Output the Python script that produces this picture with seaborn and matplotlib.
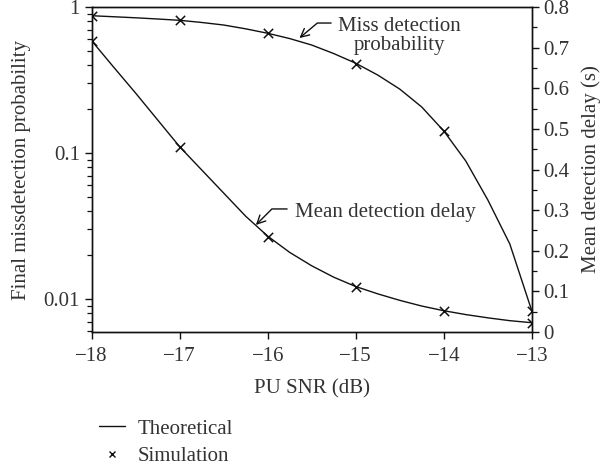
import numpy as np
import pandas as pd
import matplotlib
matplotlib.use("Agg")
import matplotlib.pyplot as plt
import matplotlib.ticker as mticker
from matplotlib.lines import Line2D
import seaborn as sns

# simulation points
snr = [-18, -17, -16, -15, -14, -13]
sim_miss = [0.872, 0.811, 0.660, 0.407, 0.1415, 0.0083]
sim_delay = [0.717, 0.456, 0.235, 0.112, 0.0525, 0.023]

# theoretical curves, every 0.25 dB
theo_snr = [-18, -17.75, -17.5, -17.25, -17, -16.75, -16.5, -16.25, -16, -15.75, -15.5,
            -15.25, -15, -14.75, -14.5, -14.25, -14, -13.75, -13.5, -13.25, -13]
theo_miss = [0.872, 0.858, 0.844, 0.828, 0.811, 0.784, 0.753, 0.709, 0.661, 0.608, 0.549,
             0.480, 0.412, 0.342, 0.274, 0.2065, 0.1415, 0.0881, 0.0477, 0.0238, 0.00828]
theo_delay = [0.717, 0.652, 0.588, 0.522, 0.456, 0.399, 0.342, 0.285, 0.236, 0.196, 0.163,
              0.135, 0.112, 0.094, 0.078, 0.064, 0.0525, 0.043, 0.035, 0.028, 0.023]

sns.set_style("ticks")
plt.rcParams["font.family"] = ["Liberation Serif", "DejaVu Serif"]
plt.rcParams["font.size"] = 15
plt.rcParams["axes.linewidth"] = 1.0

sim = pd.DataFrame({"snr": snr, "miss": sim_miss, "delay": sim_delay})
theo = pd.DataFrame({"snr": theo_snr, "miss": theo_miss, "delay": theo_delay})

fig = plt.figure(figsize=(6.03, 4.69), dpi=100)
ax = fig.add_axes([0.152, 0.292, 0.730, 0.693])
ax2 = ax.twinx()

C = "#111111"
T = "#333333"
sns.lineplot(data=theo, x="snr", y="miss", ax=ax, color=C, lw=1.0)
sns.scatterplot(data=sim, x="snr", y="miss", ax=ax, marker="x", color=C, s=45, linewidth=1.1, zorder=5)
sns.lineplot(data=theo, x="snr", y="delay", ax=ax2, color=C, lw=1.0)
sns.scatterplot(data=sim, x="snr", y="delay", ax=ax2, marker="x", color=C, s=45, linewidth=1.1, zorder=5)

ax.set_yscale("log")
ax.set_ylim(0.00594, 1)
ax.set_xlim(-18, -13)
ax2.set_ylim(0, 0.8)

ax.set_yticks([0.01, 0.1, 1])
ax.yaxis.set_major_formatter(mticker.FixedFormatter(["0.01", "0.1", "1"]))
ax.yaxis.set_minor_locator(mticker.LogLocator(base=10, subs=np.arange(2, 10)))
ax.yaxis.set_minor_formatter(mticker.NullFormatter())
ax2.set_yticks(np.arange(0, 0.81, 0.1))
ax2.yaxis.set_major_formatter(mticker.FuncFormatter(lambda v, p: "0" if abs(v) < 1e-9 else f"{v:.1f}"))
ax2.yaxis.set_minor_locator(mticker.MultipleLocator(0.05))
ax.set_xticks(snr)

for a in (ax, ax2):
    a.tick_params(which="major", direction="out", length=5, width=1.0, colors=C, labelcolor=T, labelsize=15)
    a.tick_params(which="minor", direction="out", length=3.5, width=0.9, colors=C)
    for s in a.spines.values():
        s.set_visible(True)
        s.set_color(C)
ax.tick_params(axis="x", which="minor", length=0)
ax.tick_params(axis="x", pad=6)

ax.set_xlabel("PU SNR (dB)", fontsize=15, color=T, labelpad=9)
ax.set_ylabel("Final missdetection probability", fontsize=15, color=T, labelpad=9)
ax2.set_ylabel("Mean detection delay (s)", fontsize=15, color=T, labelpad=8)

# annotations
ax.text(0.70, 0.912, "Miss detection\nprobability", transform=ax.transAxes,
        ha="center", va="center", fontsize=15, color=T, linespacing=1.0)
ax.annotate("", xy=(-15.64, 0.613), xytext=(-15.28, 0.777), xycoords="data", textcoords="data",
            arrowprops=dict(arrowstyle="->", color=C, lw=1.0,
                            connectionstyle="angle,angleA=0,angleB=40,rad=0", shrinkA=0, shrinkB=0))
ax.text(0.462, 0.369, "Mean detection delay", transform=ax.transAxes,
        ha="left", va="center", fontsize=15, color=T)
ax2.annotate("", xy=(-16.135, 0.2635), xytext=(-15.78, 0.303), xycoords="data", textcoords="data",
             arrowprops=dict(arrowstyle="->", color=C, lw=1.0,
                             connectionstyle="angle,angleA=0,angleB=45,rad=0", shrinkA=0, shrinkB=0))

handles = [Line2D([], [], color=C, lw=1.0),
           Line2D([], [], color=C, lw=0, marker="x", markersize=5, markeredgewidth=1.0)]
fig.legend(handles, ["Theoretical", "Simulation"], loc="upper left",
           bbox_to_anchor=(0.150, 0.124), frameon=False, fontsize=15,
           handlelength=1.25, handletextpad=0.62, labelspacing=0.38, borderaxespad=0,
           labelcolor=T)

fig.savefig("out.png", dpi=100)
